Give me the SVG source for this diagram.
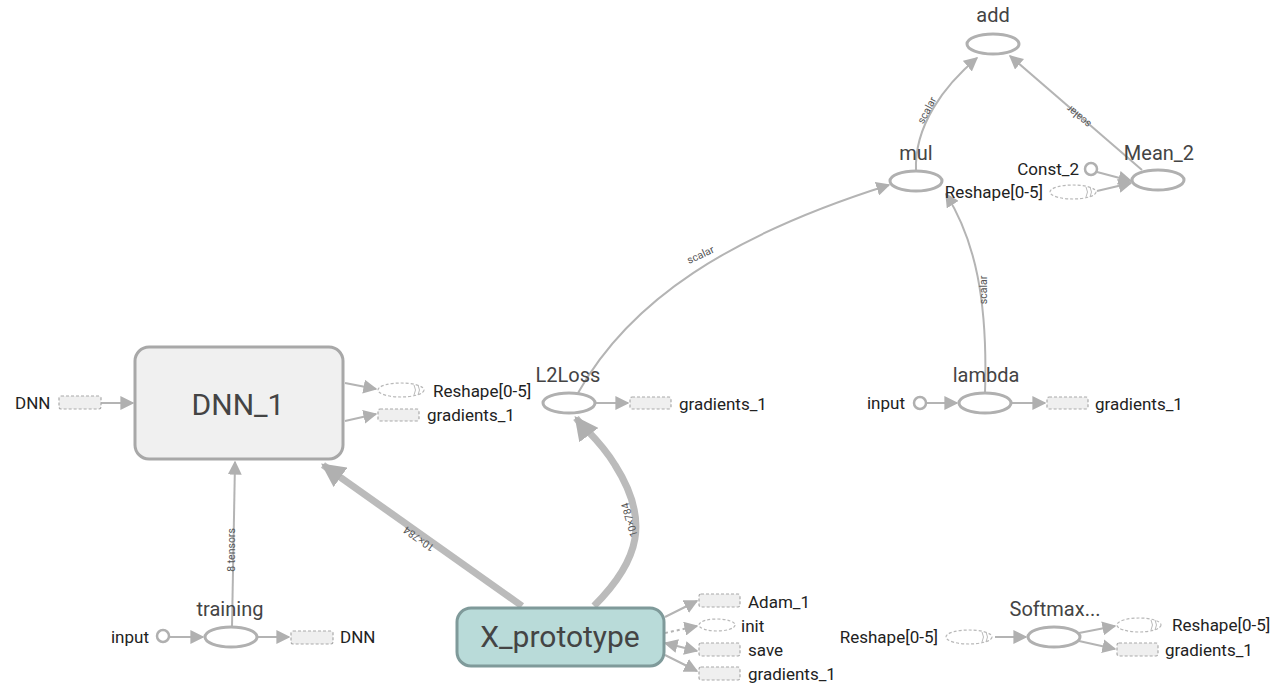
<svg xmlns="http://www.w3.org/2000/svg" width="1285" height="687" viewBox="0 0 1285 687">
<defs>
<marker id="ah" viewBox="0 0 10 10" refX="9" refY="5" markerWidth="7" markerHeight="7" orient="auto-start-reverse" markerUnits="strokeWidth">
<path d="M0,0 L10,5 L0,10 Z" fill="#b0b0b0"/>
</marker>
<marker id="ahT" viewBox="0 0 10 10" refX="9" refY="5" markerWidth="3.4" markerHeight="3.4" orient="auto" markerUnits="strokeWidth">
<path d="M0,0 L10,5 L0,10 Z" fill="#b0b0b0"/>
</marker>
</defs>
<style>
.e{fill:none;stroke:#b4b4b4;stroke-width:2;marker-end:url(#ah)}
.d{stroke-dasharray:3,3}
.t{fill:none;stroke:#bbbbbb;stroke-width:7;marker-end:url(#ahT)}
.op{fill:#ffffff;stroke:#b0b0b0;stroke-width:3}
.cst{fill:#ffffff;stroke:#b0b0b0;stroke-width:2.5}
.sr{fill:#ffffff;stroke:#b8b8b8;stroke-width:1.2;stroke-dasharray:3,2}
.sm{fill:#efefef;stroke:#aaaaaa;stroke-width:1.2;stroke-dasharray:3,2}
.nm{font-family:Roboto,"Liberation Sans",sans-serif;font-size:20px;fill:#444;text-anchor:middle}
.lb{font-family:Roboto,"Liberation Sans",sans-serif;font-size:17px;fill:#222}
.lr{text-anchor:end}
.el{font-family:Roboto,"Liberation Sans",sans-serif;font-size:10.5px;fill:#555;text-anchor:middle}
.big{font-family:Roboto,"Liberation Sans",sans-serif;font-size:30px;fill:#444;text-anchor:middle}
</style>
<rect width="1285" height="687" fill="#ffffff"/>
<g id="connectors">
<path class="e" d="M916,171 C914,125 945,85 977,58"/>
<text class="el" transform="translate(930,112) rotate(-62)">scalar</text>
<path class="e" d="M1142,170 L1010,56"/>
<text class="el" transform="translate(1081,114) rotate(221)">scalar</text>
<path class="e" d="M1097,172 L1131,181"/>
<path class="e" d="M1097,191 L1131,183"/>
<path class="e" d="M578,393 C630,300 730,235 889,185"/>
<text class="el" transform="translate(702,258) rotate(-25)">scalar</text>
<path class="e" d="M985,393 C988,300 975,240 946,194"/>
<text class="el" transform="translate(987,290) rotate(-90)">scalar</text>
<path class="e" d="M926,403 L957,403"/>
<path class="e" d="M1011,403 L1045,403"/>
<path class="e" d="M595,403 L628,403"/>
<path class="e" d="M101,403 L133,403"/>
<path class="e" d="M345,383 L376,389"/>
<path class="e" d="M345,421 L376,414"/>
<path class="e" d="M232,627 L235,462"/>
<text class="el" transform="translate(235,550) rotate(-90)">8 tensors</text>
<path class="e" d="M169,637 L203,637"/>
<path class="e" d="M257,637 L289,637"/>
<path class="t" d="M522,606 L323,465"/>
<text class="el" transform="translate(421,536) rotate(215.5)">10×784</text>
<path class="t" d="M594,606 C640,560 650,520 615,465 C600,440 585,430 576,418"/>
<text class="el" transform="translate(633,519) rotate(-106)">10×784</text>
<path class="e" d="M665,617 L697,601"/>
<path class="e d" d="M665,633 L697,626"/>
<path class="e" style="marker-start:url(#ah)" d="M665,643 L697,651"/>
<path class="e" d="M665,655 L697,671"/>
<path class="e" d="M995,637 L1026,637"/>
<path class="e" d="M1079,633 L1115,626"/>
<path class="e" d="M1079,641 L1115,649"/>
</g>
<g id="add"><ellipse class="op" cx="993" cy="44" rx="26" ry="10"/><text class="nm" x="993" y="22">add</text></g>
<g id="mul"><ellipse class="op" cx="916" cy="181" rx="26" ry="10"/><text class="nm" x="916" y="160">mul</text></g>
<g id="Mean_2"><ellipse class="op" cx="1158" cy="180" rx="26" ry="10"/><text class="nm" x="1159" y="160">Mean_2</text></g>
<g id="Const_2"><circle class="cst" cx="1091" cy="169" r="6"/><text class="lb lr" x="1079" y="175">Const_2</text></g>
<g id="Reshape_mean"><ellipse class="sr" cx="1073" cy="192" rx="23" ry="7"/><path d="M1086,187 q3,5 0,10 M1090,187 q3,5 0,10" fill="none" stroke="#bbb" stroke-width="1"/><text class="lb lr" x="1043" y="198">Reshape[0-5]</text></g>
<g id="L2Loss"><ellipse class="op" cx="569" cy="403" rx="26" ry="10"/><text class="nm" x="568" y="382">L2Loss</text></g>
<g id="gradients_l2"><rect class="sm" x="630" y="397" width="41" height="12" rx="2"/><text class="lb" x="679" y="410">gradients_1</text></g>
<g id="lambda"><ellipse class="op" cx="985" cy="403" rx="26" ry="10"/><text class="nm" x="986" y="382">lambda</text></g>
<g id="input_lambda"><circle class="cst" cx="920" cy="403" r="6"/><text class="lb lr" x="905" y="409">input</text></g>
<g id="gradients_lambda"><rect class="sm" x="1047" y="397" width="41" height="12" rx="2"/><text class="lb" x="1095" y="410">gradients_1</text></g>
<g id="DNN_1"><rect x="135" y="347" width="208" height="112" rx="14" fill="#f0f0f0" stroke="#a8a8a8" stroke-width="3"/><text class="big" x="238" y="415">DNN_1</text></g>
<g id="DNN_in"><rect class="sm" x="59" y="396" width="42" height="13" rx="2"/><text class="lb" x="15" y="409">DNN</text></g>
<g id="Reshape_dnn"><ellipse class="sr" cx="401" cy="390" rx="23" ry="7"/><path d="M414,385 q3,5 0,10 M418,385 q3,5 0,10" fill="none" stroke="#bbb" stroke-width="1"/><text class="lb" x="433" y="397">Reshape[0-5]</text></g>
<g id="gradients_dnn"><rect class="sm" x="378" y="409" width="41" height="12" rx="2"/><text class="lb" x="427" y="421">gradients_1</text></g>
<g id="training"><ellipse class="op" cx="231" cy="637" rx="26" ry="10"/><text class="nm" x="230" y="616">training</text></g>
<g id="input_training"><circle class="cst" cx="163" cy="636" r="6"/><text class="lb lr" x="149" y="643">input</text></g>
<g id="DNN_out"><rect class="sm" x="291" y="631" width="42" height="13" rx="2"/><text class="lb" x="340" y="643">DNN</text></g>
<g id="X_prototype"><rect x="457" y="608" width="207" height="58" rx="14" fill="#b9dbd9" stroke="#7f9a9a" stroke-width="3"/><text class="big" x="560" y="647">X_prototype</text></g>
<g id="Adam_1"><rect class="sm" x="699" y="594" width="41" height="13" rx="2"/><text class="lb" x="748" y="608">Adam_1</text></g>
<g id="init"><ellipse class="sr" cx="717" cy="625" rx="18" ry="6"/><text class="lb" x="741" y="632">init</text></g>
<g id="save"><rect class="sm" x="699" y="643" width="41" height="13" rx="2"/><text class="lb" x="748" y="656">save</text></g>
<g id="gradients_x"><rect class="sm" x="699" y="667" width="41" height="13" rx="2"/><text class="lb" x="748" y="680">gradients_1</text></g>
<g id="Softmax"><ellipse class="op" cx="1054" cy="637" rx="26" ry="10"/><text class="nm" x="1055" y="616">Softmax...</text></g>
<g id="Reshape_sm_in"><ellipse class="sr" cx="969" cy="637" rx="23" ry="7"/><path d="M982,632 q3,5 0,10 M986,632 q3,5 0,10" fill="none" stroke="#bbb" stroke-width="1"/><text class="lb lr" x="938" y="643">Reshape[0-5]</text></g>
<g id="Reshape_sm_out"><ellipse class="sr" cx="1139" cy="625" rx="22" ry="7"/><path d="M1151,620 q3,5 0,10 M1155,620 q3,5 0,10" fill="none" stroke="#bbb" stroke-width="1"/><text class="lb" x="1172" y="631">Reshape[0-5]</text></g>
<g id="gradients_sm"><rect class="sm" x="1117" y="643" width="41" height="13" rx="2"/><text class="lb" x="1165" y="656">gradients_1</text></g>
</svg>
